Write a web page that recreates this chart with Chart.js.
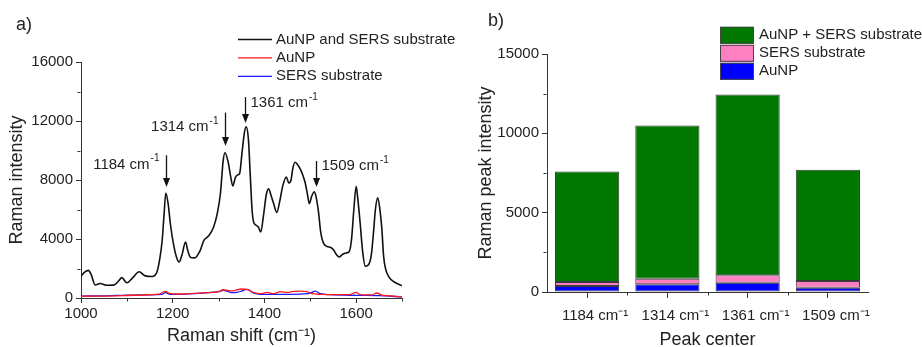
<!DOCTYPE html>
<html>
<head>
<meta charset="utf-8">
<script src="https://cdn.jsdelivr.net/npm/chart.js@4.4.1/dist/chart.umd.min.js"></script>
<style>
  html, body { margin: 0; padding: 0; background: #fff; }
  #wrap { position: relative; width: 922px; height: 347px; overflow: hidden; }
  canvas { position: absolute; top: 0; }
</style>
</head>
<body>
<div id="wrap">
  <canvas id="chartSpectra" width="470" height="347" style="left:0"></canvas>
  <canvas id="chartPeaks" width="452" height="347" style="left:470px"></canvas>
</div>
<script>
// panel a) spectra
const shiftBlack = [1000,1008,1016,1022,1031,1042,1057,1071,1082,1089,1100,1112,1127,1140,1155,1166,1172,1177,1181,1185,1190,1195,1202,1208,1214,1220,1228,1233,1239,1248,1260,1268,1278,1289,1297,1304,1310,1314,1321,1326,1331,1337,1342,1346,1351,1356,1360,1365,1369,1373,1376,1381,1387,1392,1398,1404,1409,1415,1420,1427,1433,1440,1448,1453,1458,1462,1467,1472,1478,1484,1489,1494,1498,1503,1509,1513,1518,1523,1529,1536,1545,1551,1558,1563,1570,1578,1585,1590,1595,1600,1604,1609,1614,1620,1627,1633,1638,1642,1647,1651,1656,1660,1664,1672,1685,1700];
const intBlack   = [1480,1750,1870,1600,880,980,860,870,1150,1380,1030,1350,1780,1500,1460,1800,2700,3900,5600,7120,6400,5000,3600,2800,2440,2900,3800,3200,2750,2720,3230,3900,4200,4800,5700,7070,9300,9850,9200,8300,7600,8200,8350,8450,9800,11150,11600,10800,8400,6000,5200,4950,4800,4470,5600,7000,7400,6900,6400,5800,6500,7600,8200,7800,8000,8800,9200,9050,8750,8300,7800,7000,6400,6900,7200,6800,5800,4400,3700,3500,3420,3250,2900,2780,2950,3050,3150,4000,6000,7570,6600,5000,3200,2150,2250,2900,4500,6000,6800,6200,4700,2800,2000,1400,1050,830];

const shiftRed = [1000,1050,1100,1150,1170,1184,1194,1212,1248,1285,1300,1310,1320,1330,1350,1362,1376,1391,1406,1420,1435,1449,1464,1478,1493,1504,1522,1545,1585,1600,1609,1634,1645,1656,1675,1700];
const intRed   = [120,130,170,220,260,450,290,270,320,380,430,560,520,480,610,590,380,290,380,290,430,380,450,470,430,290,250,225,225,380,230,210,340,200,150,70];

const shiftBlue = [1000,1050,1100,1150,1176,1184,1194,1212,1248,1285,1300,1310,1320,1328,1340,1350,1362,1376,1391,1420,1456,1493,1503,1511,1522,1543,1602,1650,1700];
const intBlue   = [130,150,200,220,250,360,250,250,290,380,430,520,450,360,380,470,590,340,250,250,250,290,380,470,290,225,180,160,70];

// peak labels with arrows (wavenumber, arrow tip, arrow top, text level)
const peakNames = ['1184', '1314', '1361', '1509'];
const peakPos   = [1184.5, 1314.7, 1357, 1512.4];
const peakTip   = [7526, 10306, 11865, 7526];
const peakTop   = [9675, 12570, 13628, 9289];
const peakText  = [9045, 11594, 13221, 8950];
const peakSide  = ['left', 'left', 'right', 'right'];

// panel b) peak intensities
const peakCenters = ['1184 cm⁻¹', '1314 cm⁻¹', '1361 cm⁻¹', '1509 cm⁻¹'];
const auNP      = [380, 490, 590, 275];
const sersSub   = [250, 350, 465, 420];
const combined  = [6970, 9660, 11400, 7005];

const fontFamily = 'Arial, "Liberation Sans", sans-serif';
const ink = '#222';
const axisColor = '#333';
Chart.defaults.font.family = fontFamily;
Chart.defaults.color = ink;

function toPoints(xs, ys) {
  return xs.map((x, i) => ({ x: x, y: ys[i] }));
}

// "1184 cm" with small -1 superscript
function drawCm(ctx, num, x, y, align) {
  const main = num + ' cm';
  ctx.font = '15px ' + fontFamily;
  const w1 = ctx.measureText(main).width;
  ctx.font = '10px ' + fontFamily;
  const w2 = ctx.measureText('-1').width;
  const x0 = align === 'right' ? x - w1 - w2 - 1 : x;
  ctx.textAlign = 'left';
  ctx.textBaseline = 'middle';
  ctx.font = '15px ' + fontFamily;
  ctx.fillText(main, x0, y);
  ctx.font = '10px ' + fontFamily;
  ctx.fillText('-1', x0 + w1 + 1, y - 6);
}

// major ticks come from Chart.js, minor ones are drawn shorter here
function majorOnly(test) {
  return c => test(c.tick.value) ? axisColor : 'rgba(0,0,0,0)';
}

const overlay = {
  id: 'overlay',
  afterDraw(chart, args, opts) {
    const ctx = chart.ctx;
    ctx.save();

    // minor ticks
    ctx.strokeStyle = axisColor;
    ctx.lineWidth = 1;
    const xs = chart.scales.x, ys = chart.scales.y;
    const ax = Math.round(ys.right) + 0.5 - 1;
    const ay = Math.round(xs.top) + 0.5;
    ctx.beginPath();
    ys.ticks.forEach(t => {
      if (!opts.yMajor(t.value)) {
        const p = Math.round(ys.getPixelForValue(t.value)) + 0.5;
        ctx.moveTo(ax - 3, p); ctx.lineTo(ax, p);
      }
    });
    if (opts.catMinor) {
      const n = chart.data.labels.length;
      for (let i = 1; i < n; i++) {
        const p = Math.round((xs.getPixelForValue(i - 1) + xs.getPixelForValue(i)) / 2) + 0.5;
        ctx.moveTo(p, ay); ctx.lineTo(p, ay + 3);
      }
    } else {
      xs.ticks.forEach(t => {
        if (!opts.xMajor(t.value)) {
          const p = Math.round(xs.getPixelForValue(t.value)) + 0.5;
          ctx.moveTo(p, ay); ctx.lineTo(p, ay + 3);
        }
      });
    }
    ctx.stroke();

    ctx.fillStyle = ink;
    ctx.font = '18px ' + fontFamily;
    ctx.textAlign = 'left';
    ctx.textBaseline = 'middle';
    ctx.fillText(opts.panel, opts.panelX, opts.panelY);

    // legend
    const lg = opts.legend;
    lg.order.forEach((di, row) => {
      const ds = chart.data.datasets[di];
      const y = lg.y + row * lg.rowH;
      if (lg.kind === 'line') {
        ctx.strokeStyle = ds.borderColor;
        ctx.lineWidth = ds.borderWidth;
        ctx.beginPath();
        ctx.moveTo(lg.x, y);
        ctx.lineTo(lg.x + lg.w, y);
        ctx.stroke();
      } else {
        ctx.fillStyle = ds.backgroundColor;
        ctx.fillRect(lg.x, y - lg.boxH / 2, lg.w, lg.boxH);
        ctx.strokeStyle = '#444';
        ctx.lineWidth = 1;
        ctx.strokeRect(lg.x + 0.5, y - lg.boxH / 2 + 0.5, lg.w - 1, lg.boxH - 1);
      }
      ctx.fillStyle = ink;
      ctx.font = '15px ' + fontFamily;
      ctx.textBaseline = 'middle';
      ctx.fillText(ds.label, lg.x + lg.w + lg.gap, y);
    });

    // arrows
    if (opts.arrows) {
      peakNames.forEach((name, i) => {
        const x = Math.round(xs.getPixelForValue(peakPos[i])) + 0.5;
        const yTop = ys.getPixelForValue(peakTop[i]);
        const yTip = ys.getPixelForValue(peakTip[i]);
        ctx.strokeStyle = '#111';
        ctx.fillStyle = '#111';
        ctx.lineWidth = 1.3;
        ctx.beginPath();
        ctx.moveTo(x, yTop);
        ctx.lineTo(x, yTip - 7);
        ctx.stroke();
        ctx.beginPath();
        ctx.moveTo(x - 3.5, yTip - 9);
        ctx.lineTo(x + 3.5, yTip - 9);
        ctx.lineTo(x, yTip);
        ctx.closePath();
        ctx.fill();
        ctx.fillStyle = ink;
        const yText = ys.getPixelForValue(peakText[i]);
        if (peakSide[i] === 'left') drawCm(ctx, name, x - 7, yText, 'right');
        else drawCm(ctx, name, x + 5, yText, 'left');
      });
    }
    ctx.restore();
  }
};

const xMajorA = v => v % 200 === 0 && v < 1700;
const yMajorA = v => v % 4000 === 0;
const yMajorB = v => v % 5000 === 0;

new Chart(document.getElementById('chartSpectra'), {
  type: 'line',
  data: {
    datasets: [
      { label: 'AuNP and SERS substrate', data: toPoints(shiftBlack, intBlack), borderColor: '#111', borderWidth: 1.6 },
      { label: 'AuNP', data: toPoints(shiftRed, intRed), borderColor: '#ff1a1a', borderWidth: 1.3 },
      { label: 'SERS substrate', data: toPoints(shiftBlue, intBlue), borderColor: '#1a1aff', borderWidth: 1.3 }
    ]
  },
  options: {
    responsive: false,
    animation: false,
    layout: { padding: { top: 62, right: 68, left: 0, bottom: 0 } },
    elements: { point: { radius: 0 }, line: { cubicInterpolationMode: 'monotone', fill: false } },
    plugins: {
      legend: { display: false },
      tooltip: { enabled: false },
      overlay: {
        panel: 'a)', panelX: 16, panelY: 25,
        xMajor: xMajorA, yMajor: yMajorA, catMinor: false,
        legend: { kind: 'line', x: 238, y: 39.5, rowH: 18.4, w: 34, gap: 4, order: [0, 1, 2] },
        arrows: true
      }
    },
    scales: {
      x: {
        type: 'linear', min: 1000, max: 1700,
        border: { color: axisColor, width: 1 },
        grid: { drawOnChartArea: false, tickLength: 5, color: axisColor, tickColor: majorOnly(xMajorA) },
        ticks: {
          stepSize: 100, autoSkip: false, maxRotation: 0, padding: 2,
          font: { size: 15 },
          callback: v => xMajorA(v) ? v : ''
        },
        title: { display: true, text: 'Raman shift (cm⁻¹)', font: { size: 18 }, padding: { top: 0, bottom: 0 } },
        afterFit: s => { s.height = 49; }
      },
      y: {
        min: 0, max: 16000,
        border: { color: axisColor, width: 1 },
        grid: { drawOnChartArea: false, tickLength: 5, color: axisColor, tickColor: majorOnly(yMajorA) },
        ticks: {
          stepSize: 2000, autoSkip: false, padding: 3,
          font: { size: 15 },
          callback: v => yMajorA(v) ? v : ''
        },
        title: { display: true, text: 'Raman intensity', font: { size: 18 }, padding: { top: 6, bottom: 0 } },
        afterFit: s => { s.width = 81; }
      }
    }
  },
  plugins: [overlay]
});

const barStyle = { barPercentage: 0.8, categoryPercentage: 1.0, borderWidth: 1, borderColor: '#3a3a3a', borderSkipped: false };

new Chart(document.getElementById('chartPeaks'), {
  type: 'bar',
  data: {
    labels: peakCenters,
    datasets: [
      Object.assign({ label: 'AuNP', data: auNP, backgroundColor: '#0000ff' }, barStyle),
      Object.assign({ label: 'SERS substrate', data: sersSub, backgroundColor: '#ff80c0' }, barStyle),
      Object.assign({ label: 'AuNP + SERS substrate', data: combined, backgroundColor: '#007800' }, barStyle)
    ]
  },
  options: {
    responsive: false,
    animation: false,
    layout: { padding: { top: 54, right: 54, left: 0, bottom: 0 } },
    plugins: {
      legend: { display: false },
      tooltip: { enabled: false },
      overlay: {
        panel: 'b)', panelX: 18, panelY: 21,
        yMajor: yMajorB, catMinor: true,
        legend: { kind: 'box', x: 250, y: 35.3, rowH: 18, w: 34, boxH: 17, gap: 5, order: [2, 1, 0] },
        arrows: false
      }
    },
    scales: {
      x: {
        stacked: true,
        offset: true,
        border: { color: axisColor, width: 1 },
        grid: { offset: false, drawOnChartArea: false, tickLength: 6, color: axisColor },
        ticks: { padding: 9, labelOffset: 8, maxRotation: 0, font: { size: 15 } },
        title: { display: true, text: 'Peak center', font: { size: 18 }, padding: { top: 0, bottom: -4 } },
        afterFit: s => { s.height = 55; }
      },
      y: {
        stacked: true,
        min: 0, max: 15000,
        border: { color: axisColor, width: 1 },
        grid: { drawOnChartArea: false, tickLength: 5, color: axisColor, tickColor: majorOnly(yMajorB) },
        ticks: {
          stepSize: 2500, autoSkip: false, padding: 3,
          font: { size: 15 },
          callback: v => yMajorB(v) ? v : ''
        },
        title: { display: true, text: 'Raman peak intensity', font: { size: 18 }, padding: { top: 5, bottom: 0 } },
        afterFit: s => { s.width = 77; }
      }
    }
  },
  plugins: [overlay]
});
</script>
</body>
</html>
